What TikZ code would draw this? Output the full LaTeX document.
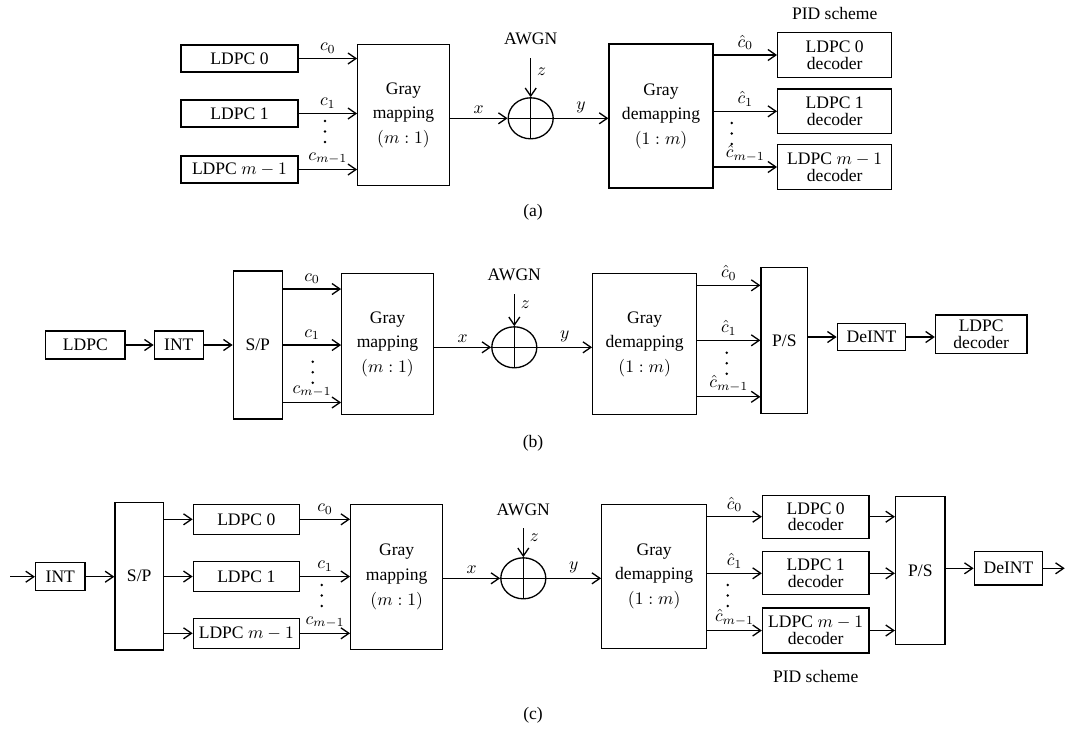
\documentclass[tikz,border=0pt]{standalone}
\usepackage{fontspec}
\setmainfont{Liberation Serif}
\usetikzlibrary{arrows.meta, shapes.geometric, positioning}

\begin{document}
\begin{tikzpicture}[
    x=0.02cm, y=-0.02cm,
    font=\fontsize{10}{12}\selectfont,
    box/.style={rectangle, draw, line width=0.75pt, inner sep=1pt, align=center},
    enc/.style={box, minimum width=2.34cm, minimum height=0.54cm},
    mapbox/.style={box, font=\fontsize{10}{14}\selectfont},
    dec/.style={box, font=\fontsize{10}{9.5}\selectfont, minimum width=2.28cm, minimum height=0.89cm},
    bar/.style={box, minimum width=0.98cm},
    adder/.style={ellipse, draw, line width=0.75pt, minimum width=0.9cm, minimum height=0.82cm, inner sep=0pt,
        path picture={\draw[line width=0.75pt] (path picture bounding box.north) -- (path picture bounding box.south)
            (path picture bounding box.west) -- (path picture bounding box.east);}},
    arrow/.style={-{Straight Barb[length=1.6mm, width=2.2mm]}, line width=0.75pt},
    lbl/.style={midway, above, inner sep=2.5pt}
]
\useasboundingbox (0,0) rectangle (1067,735);

% (a) PID scheme
\node[enc] (a0) at (239.5,58.5) {LDPC 0};
\node[enc] (a1) at (239.5,113.5) {LDPC 1};
\node[enc] (a2) at (239.5,169.5) {LDPC $m-1$};
\node[mapbox, minimum width=1.83cm, minimum height=2.83cm] (amap) at (403.5,115) {Gray\\mapping\\$(m:1)$};
\node[adder] (aadd) at (530.7,118.3) {};
\node (aawgn) at (530.7,39) {AWGN};
\node[mapbox, minimum width=2.08cm, minimum height=2.88cm] (adem) at (661,116) {Gray\\demapping\\$(1:m)$};
\node[dec] (ad0) at (834.7,55) {LDPC 0\\decoder};
\node[dec] (ad1) at (834.7,111.3) {LDPC 1\\decoder};
\node[dec] (ad2) at (834.7,167) {LDPC $m-1$\\decoder};
\node (apid) at (834.7,13) {PID scheme};
\node (acap) at (533,212) {(a)};

\draw[arrow] (a0) -- (a0 -| amap.west) node[lbl] {$c_0$};
\draw[arrow] (a1) -- (a1 -| amap.west) node[lbl] {$c_1$};
\draw[arrow] (a2) -- (a2 -| amap.west) node[lbl] {$c_{m-1}$};
\draw[arrow] (amap.east |- aadd) -- (aadd) node[lbl] {$x$};
\draw[arrow, shorten <=1.4mm] (aawgn) -- (aadd) node[pos=0.45, right] {$z$};
\draw[arrow] (aadd) -- (aadd -| adem.west) node[lbl] {$y$};
\draw[arrow] (adem.east |- ad0) -- (ad0) node[lbl] {$\hat{c}_0$};
\draw[arrow] (adem.east |- ad1) -- (ad1) node[lbl] {$\hat{c}_1$};
\draw[arrow] (adem.east |- ad2) -- (ad2) node[lbl] {$\hat{c}_{m-1}$};

% (b) BICM
\node[box, minimum width=1.59cm, minimum height=0.56cm] (bldpc) at (85.3,345) {LDPC};
\node[box, minimum width=0.98cm, minimum height=0.56cm] (bint) at (178.8,345) {INT};
\node[bar, minimum height=2.96cm] (bsp) at (257.8,345) {S/P};
\node[mapbox, minimum width=1.83cm, minimum height=2.83cm] (bmap) at (387.5,344) {Gray\\mapping\\$(m:1)$};
\node[adder] (badd) at (514.3,347.3) {};
\node (bawgn) at (514.3,275) {AWGN};
\node[mapbox, minimum width=2.08cm, minimum height=2.83cm] (bdem) at (644.7,344) {Gray\\demapping\\$(1:m)$};
\node[bar, minimum width=0.93cm, minimum height=2.92cm] (bps) at (784.3,340.3) {P/S};
\node[box, minimum width=1.37cm, minimum height=0.55cm] (bdeint) at (871.5,337) {DeINT};
\node[dec, minimum width=1.83cm, minimum height=0.77cm, font=\fontsize{10}{10}\selectfont] (bdec) at (981.2,334.2) {LDPC\\decoder};
\node (bcap) at (533,443) {(b)};

\draw[arrow] (bldpc) -- (bint);
\draw[arrow] (bint) -- (bsp);
\draw[arrow] ([yshift=1.12cm]bsp.east) -- ([yshift=1.12cm]bsp.east -| bmap.west) node[lbl] {$c_0$};
\draw[arrow] (bsp.east) -- (bsp.east -| bmap.west) node[lbl] {$c_1$};
\draw[arrow] ([yshift=-1.15cm]bsp.east) -- ([yshift=-1.15cm]bsp.east -| bmap.west) node[lbl] {$c_{m-1}$};
\draw[arrow] (bmap.east |- badd) -- (badd) node[lbl] {$x$};
\draw[arrow, shorten <=1.4mm] (bawgn) -- (badd) node[pos=0.45, right] {$z$};
\draw[arrow] (badd) -- (badd -| bdem.west) node[lbl] {$y$};
\draw[arrow] ([yshift=1.1cm]bdem.east |- bps.west) -- ([yshift=1.1cm]bps.west) node[lbl] {$\hat{c}_0$};
\draw[arrow] (bdem.east |- bps.west) -- (bps.west) node[lbl] {$\hat{c}_1$};
\draw[arrow] ([yshift=-1.13cm]bdem.east |- bps.west) -- ([yshift=-1.13cm]bps.west) node[lbl] {$\hat{c}_{m-1}$};
\draw[arrow] (bps.east |- bdeint) -- (bdeint);
\draw[arrow] (bdeint) -- (bdeint -| bdec.west);

% (c) PID scheme with interleaver
\coordinate (cin) at (10,576.7);
\node[box, minimum width=0.99cm, minimum height=0.56cm] (cint) at (60.3,576.7) {INT};
\node[bar, minimum width=0.97cm, minimum height=2.95cm] (csp) at (139.2,576.2) {S/P};
\node[enc, minimum width=2.12cm, minimum height=0.6cm] (c0) at (246.3,519.3) {LDPC 0};
\node[enc, minimum width=2.12cm, minimum height=0.6cm] (c1) at (246.3,576.5) {LDPC 1};
\node[enc, minimum width=2.12cm, minimum height=0.6cm] (c2) at (246.3,633.3) {LDPC $m-1$};
\node[mapbox, minimum width=1.84cm, minimum height=2.9cm] (cmap) at (396.7,576.8) {Gray\\mapping\\$(m:1)$};
\node[adder] (cadd) at (523.3,578.3) {};
\node (cawgn) at (523.3,509.3) {AWGN};
\node[mapbox, minimum width=2.1cm, minimum height=2.88cm] (cdem) at (654.2,576.3) {Gray\\demapping\\$(1:m)$};
\node[dec, minimum width=2.13cm, minimum height=0.86cm] (cd0) at (815.7,516.7) {LDPC 0\\decoder};
\node[dec, minimum width=2.13cm, minimum height=0.86cm] (cd1) at (815.7,573.3) {LDPC 1\\decoder};
\node[dec, minimum width=2.13cm, minimum height=0.9cm] (cd2) at (815.7,630.5) {LDPC $m-1$\\decoder};
\node[bar, minimum width=0.99cm, minimum height=2.95cm] (cps) at (920.3,570.5) {P/S};
\node[box, minimum width=1.37cm, minimum height=0.67cm] (cdeint) at (1008.5,568.3) {DeINT};
\coordinate (cout) at (1064.7,568.3);
\node (cpid) at (815.7,676) {PID scheme};
\node (ccap) at (533,715) {(c)};

\draw[arrow] (cin) -- (cint);
\draw[arrow] (cint) -- (cint -| csp.west);
\foreach \n in {0,1,2}
    \draw[arrow] (csp.east |- c\n) -- (c\n);
\draw[arrow] (c0) -- (c0 -| cmap.west) node[lbl] {$c_0$};
\draw[arrow] (c1) -- (c1 -| cmap.west) node[lbl] {$c_1$};
\draw[arrow] (c2) -- (c2 -| cmap.west) node[lbl] {$c_{m-1}$};
\draw[arrow] (cmap.east |- cadd) -- (cadd) node[lbl] {$x$};
\draw[arrow, shorten <=1.4mm] (cawgn) -- (cadd) node[pos=0.45, right] {$z$};
\draw[arrow] (cadd) -- (cadd -| cdem.west) node[lbl] {$y$};
\draw[arrow] (cdem.east |- cd0) -- (cd0) node[lbl] {$\hat{c}_0$};
\draw[arrow] (cdem.east |- cd1) -- (cd1) node[lbl] {$\hat{c}_1$};
\draw[arrow] (cdem.east |- cd2) -- (cd2) node[lbl] {$\hat{c}_{m-1}$};
\foreach \n in {0,1,2}
    \draw[arrow] (cd\n) -- (cd\n -| cps.west);
\draw[arrow] (cps.east |- cdeint) -- (cdeint);
\draw[arrow] (cdeint) -- (cout);

% vertical dots between the branches
\foreach \x/\y in {325/121, 731.7/123, 312.7/361.7, 726.7/352.7, 321.7/585, 727.7/585}
    \foreach \k in {0,1,2}
        \fill (\x,\y+10.5*\k) circle (0.8pt);

\end{tikzpicture}
\end{document}
